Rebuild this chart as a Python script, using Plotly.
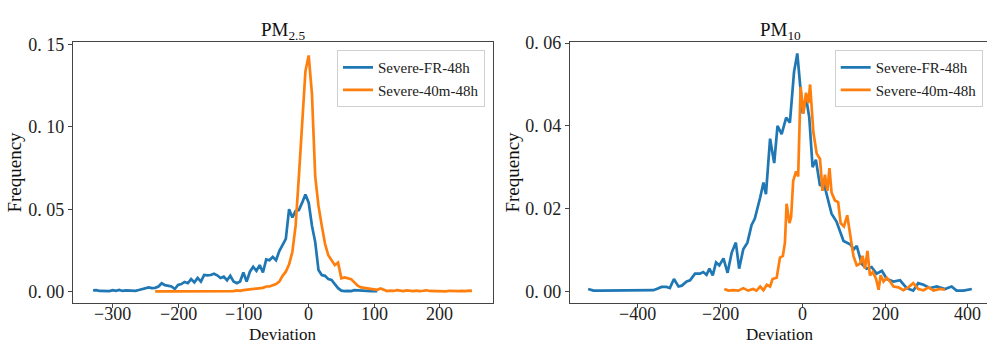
import plotly.graph_objects as go

# ---------------- data ----------------
series_names = ["Severe-FR-48h", "Severe-40m-48h"]
colors = ["#1f77b4", "#ff7f0e"]

# PM2.5 : Severe-FR-48h
pm25_fr_x = list(range(-330, 110, 5))
pm25_fr_y = [
    0.0006, 0.0008, 0.0003, 0.0002, 0.0003, 0.0002, 0.0008, 0.0004, 0.0009, 0.0003,
    0.0006, 0.0005, 0.0001, 0.0004, 0.0009, 0.0014, 0.0022, 0.0025, 0.0020, 0.0022,
    0.0030, 0.0050, 0.0038, 0.0033, 0.0030, 0.0015, 0.0040, 0.0045, 0.0058, 0.0050,
    0.0075, 0.0055, 0.0082, 0.0060, 0.0100, 0.0098, 0.0100, 0.0108, 0.0098, 0.0082,
    0.0090, 0.0068, 0.0095, 0.0060, 0.0050, 0.0060, 0.0115, 0.0060, 0.0120, 0.0150,
    0.0125, 0.0160, 0.0115, 0.0195, 0.0190, 0.0210, 0.0190, 0.0245, 0.0285, 0.0320,
    0.0500, 0.0450, 0.0490, 0.0495, 0.0540, 0.0590, 0.0540, 0.0400, 0.0300, 0.0130,
    0.0100, 0.0095, 0.0075, 0.0070, 0.0045, 0.0020, 0.0005, 0.0002, 0.0004, 0.0002,
    0.0008, 0.0006, 0.0004, 0.0003, 0.0002, 0.0002, 0.0002, 0.0002,
]

# PM2.5 : Severe-40m-48h
pm25_40m_x = list(range(-235, 255, 5))
pm25_40m_y = [
    0.0000, 0.0001, 0.0000, 0.0000, 0.0001, 0.0000, 0.0000, 0.0001, 0.0000, 0.0000,
    0.0001, 0.0000, 0.0000, 0.0001, 0.0000, 0.0000, 0.0001, 0.0000, 0.0000, 0.0001,
    0.0000, 0.0002, 0.0002, 0.0003, 0.0002, 0.0006, 0.0004, 0.0008, 0.0010, 0.0010,
    0.0015, 0.0018, 0.0016, 0.0022, 0.0030, 0.0030, 0.0038, 0.0045, 0.0060, 0.0095,
    0.0120, 0.0165, 0.0240, 0.0400, 0.0700, 0.1050, 0.1340, 0.1435, 0.1200, 0.0700,
    0.0520, 0.0400, 0.0290, 0.0220, 0.0190, 0.0160, 0.0175, 0.0080, 0.0085, 0.0080,
    0.0075, 0.0055, 0.0035, 0.0025, 0.0022, 0.0018, 0.0015, 0.0012, 0.0010, 0.0018,
    0.0008, 0.0002, 0.0005, 0.0003, 0.0008, 0.0004, 0.0002, 0.0006, 0.0003, 0.0002,
    0.0005, 0.0002, 0.0004, 0.0007, 0.0003, 0.0002, 0.0004, 0.0002, 0.0003, 0.0001,
    0.0004, 0.0002, 0.0003, 0.0002, 0.0004, 0.0002, 0.0005, 0.0003,
]

# PM10 : Severe-FR-48h
pm10_fr_x = [-520, -507, -490, -470, -450, -430, -410, -390, -370, -362, -354, -342, -330,
             -322, -312, -301, -293, -281, -273, -261, -249, -241, -233, -226, -218, -210,
             -202, -192, -182, -172, -162, -154, -144, -134, -124, -116, -103, -95, -89,
             -79, -69, -61, -51, -40, -31, -21, -13, -6, 0, 8, 16, 24, 32, 42, 50, 58, 70,
             82, 99, 115, 124, 131, 143, 155, 167, 179, 192, 204, 220, 236, 252, 268, 280,
             293, 309, 325, 345, 361, 373, 390, 410]
pm10_fr_y = [0.0006, 0.0002, 0.0002, 0.0002, 0.0002, 0.0002, 0.0002, 0.0002, 0.0002, 0.0003,
             0.0006, 0.0011, 0.0011, 0.0008, 0.0030, 0.0012, 0.0014, 0.0024, 0.0027, 0.0043,
             0.0043, 0.0047, 0.0040, 0.0055, 0.0039, 0.0070, 0.0063, 0.0080, 0.0045, 0.0094,
             0.0118, 0.0055, 0.0102, 0.0118, 0.0160, 0.0176, 0.0227, 0.0263, 0.0235, 0.0369,
             0.0310, 0.0400, 0.0380, 0.0420, 0.0408, 0.0530, 0.0575, 0.0494, 0.0430, 0.0470,
             0.0420, 0.0300, 0.0318, 0.0255, 0.0267, 0.0235, 0.0188, 0.0169, 0.0122, 0.0114,
             0.0102, 0.0110, 0.0067, 0.0055, 0.0059, 0.0043, 0.0050, 0.0030, 0.0024, 0.0027,
             0.0008, 0.0002, 0.0020, 0.0016, 0.0008, 0.0012, 0.0006, 0.0012, 0.0002, 0.0002,
             0.0006]

# PM10 : Severe-40m-48h
pm10_40m_x = [-190, -180, -168, -156, -144, -132, -120, -112, -103, -95, -87, -79, -73, -63,
              -55, -48, -43, -39, -32, -28, -23, -16, -11, -5, 2, 8, 14, 18, 26, 34, 42, 48,
              54, 60, 65, 70, 78, 86, 92, 100, 108, 115, 123, 131, 139, 145, 151, 157, 163,
              170, 178, 184, 189, 196, 204, 212, 220, 232, 244, 256, 268, 280, 293, 305,
              317, 333, 345]
pm10_40m_y = [0.0006, 0.0002, 0.0003, 0.0002, 0.0008, 0.0002, 0.0006, 0.0002, 0.0012, 0.0003,
              0.0016, 0.0012, 0.0030, 0.0033, 0.0082, 0.0086, 0.0118, 0.0212, 0.0165, 0.0180,
              0.0267, 0.0290, 0.0278, 0.0494, 0.0430, 0.0480, 0.0455, 0.0500, 0.0384, 0.0333,
              0.0320, 0.0243, 0.0282, 0.0243, 0.0298, 0.0239, 0.0220, 0.0216, 0.0165, 0.0157,
              0.0184, 0.0133, 0.0086, 0.0063, 0.0067, 0.0086, 0.0055, 0.0098, 0.0039, 0.0047,
              0.0030, 0.0004, 0.0039, 0.0024, 0.0033, 0.0024, 0.0012, 0.0010, 0.0003, 0.0010,
              0.0020, 0.0006, 0.0003, 0.0010, 0.0002, 0.0006, 0.0004]

pm25_yticks = [0.0, 0.05, 0.10, 0.15]
pm25_yticktext = ["0. 00", "0. 05", "0. 10", "0. 15"]
pm25_xticks = [-300, -200, -100, 0, 100, 200]
pm10_yticks = [0.0, 0.02, 0.04, 0.06]
pm10_yticktext = ["0. 00", "0. 02", "0. 04", "0. 06"]
pm10_xticks = [-400, -200, 0, 200, 400]

# ---------------- figure ----------------
W, H = 987, 345
FONT = "Liberation Serif, Times New Roman, serif"

fig = go.Figure()
fig.add_trace(go.Scatter(x=pm25_fr_x, y=pm25_fr_y, mode="lines", name=series_names[0],
                         line=dict(color=colors[0], width=2.7), xaxis="x", yaxis="y",
                         legend="legend"))
fig.add_trace(go.Scatter(x=pm25_40m_x, y=pm25_40m_y, mode="lines", name=series_names[1],
                         line=dict(color=colors[1], width=2.7), xaxis="x", yaxis="y",
                         legend="legend"))
fig.add_trace(go.Scatter(x=pm10_fr_x, y=pm10_fr_y, mode="lines", name=series_names[0],
                         line=dict(color=colors[0], width=2.7), xaxis="x2", yaxis="y2",
                         legend="legend2"))
fig.add_trace(go.Scatter(x=pm10_40m_x, y=pm10_40m_y, mode="lines", name=series_names[1],
                         line=dict(color=colors[1], width=2.7), xaxis="x2", yaxis="y2",
                         legend="legend2"))

def xfmt(v):
    return ("\u2212" + str(-v)) if v < 0 else str(v)

axis_common = dict(showline=True, linecolor="#444", linewidth=1.3, ticks="outside",
                   ticklen=4, tickcolor="#444", showgrid=False, zeroline=False,
                   tickfont=dict(family=FONT, size=18, color="#222"))

ydom = [43 / H, 311 / H]
fig.update_layout(
    width=W, height=H, margin=dict(l=0, r=0, t=0, b=0),
    paper_bgcolor="white", plot_bgcolor="white",
    font=dict(family=FONT, color="#222"),
    xaxis=dict(domain=[73 / W, 493.3 / W], range=[-360.8, 282.6], anchor="y", mirror=True,
               tickvals=pm25_xticks, showticklabels=False, **axis_common),
    yaxis=dict(domain=ydom, range=[-0.0071, 0.1516], anchor="x", mirror=True,
               tickvals=pm25_yticks, ticktext=pm25_yticktext, **axis_common),
    xaxis2=dict(domain=[570 / W, 1.0], range=[-564, 446.8], anchor="y2", mirror=True,
                tickvals=pm10_xticks, showticklabels=False, **axis_common),
    yaxis2=dict(domain=ydom, range=[-0.00282, 0.06024], anchor="x2", mirror=False,
                tickvals=pm10_yticks, ticktext=pm10_yticktext, **axis_common),
    legend=dict(x=485 / W, y=(H - 42.3) / H, xanchor="right", yanchor="top",
                bgcolor="rgba(255,255,255,0.8)", bordercolor="#d0d0d0", borderwidth=1,
                font=dict(family=FONT, size=15, color="#222"), itemwidth=30),
    legend2=dict(x=982.7 / W, y=(H - 42.3) / H, xanchor="right", yanchor="top",
                 bgcolor="rgba(255,255,255,0.8)", bordercolor="#d0d0d0", borderwidth=1,
                 font=dict(family=FONT, size=15, color="#222"), itemwidth=30),
    showlegend=True,
)

ann_font = dict(family=FONT, size=19, color="#111")
dev_font = dict(family=FONT, size=17, color="#111")
tick_font = dict(family=FONT, size=18, color="#222")
annotations = [
    dict(text="PM<sub>2.5</sub>", x=283 / W, y=(H - 23) / H, xref="paper", yref="paper",
         xanchor="center", yanchor="middle", showarrow=False, font=ann_font),
    dict(text="PM<sub>10</sub>", x=780 / W, y=(H - 23) / H, xref="paper", yref="paper",
         xanchor="center", yanchor="middle", showarrow=False, font=ann_font),
    dict(text="Frequency", x=15 / W, y=(H - 168) / H, xref="paper", yref="paper",
         xanchor="center", yanchor="middle", showarrow=False, textangle=-90, font=ann_font),
    dict(text="Frequency", x=513 / W, y=(H - 168) / H, xref="paper", yref="paper",
         xanchor="center", yanchor="middle", showarrow=False, textangle=-90, font=ann_font),
    dict(text="Deviation", x=283 / W, y=0, xref="paper", yref="paper",
         xanchor="center", yanchor="bottom", showarrow=False, font=dev_font, borderpad=0),
    dict(text="Deviation", x=780 / W, y=0, xref="paper", yref="paper",
         xanchor="center", yanchor="bottom", showarrow=False, font=dev_font, borderpad=0),
]
# x tick labels placed through the x axes' own scales
for v in pm25_xticks:
    annotations.append(dict(text=xfmt(v), x=v, xref="x", y=(H - 302) / H, yref="paper",
                            xanchor="center", yanchor="top", showarrow=False,
                            font=tick_font, borderpad=0))
for v in pm10_xticks:
    annotations.append(dict(text=xfmt(v), x=v, xref="x2", y=(H - 302) / H, yref="paper",
                            xanchor="center", yanchor="top", showarrow=False,
                            font=tick_font, borderpad=0))
fig.update_layout(annotations=annotations)

fig.write_html("out.html")
